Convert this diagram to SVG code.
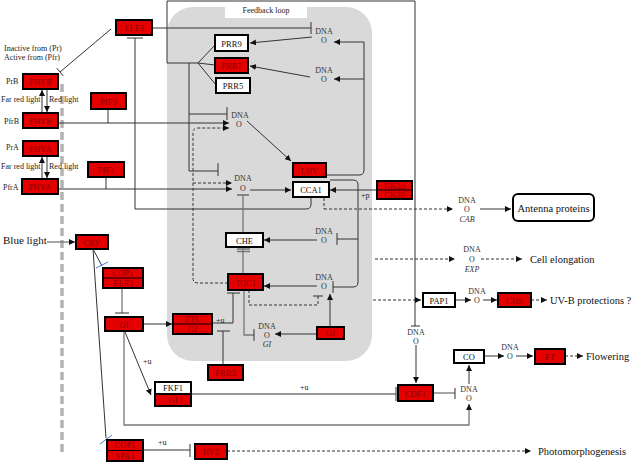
<svg xmlns="http://www.w3.org/2000/svg" width="632" height="462" viewBox="0 0 632 462">
<style>
text{font-family:"Liberation Serif","Times New Roman",serif;}
.bx{stroke:#000;stroke-width:2;}
.r{fill:#e50000;}
.w{fill:#fff;}
.tr{font-size:8.5px;fill:#8a0000;text-anchor:middle;}
.tw{font-size:8.5px;fill:#111;text-anchor:middle;}
.lb{font-size:8px;fill:#222;}
.dna{font-size:8px;fill:#333;text-anchor:middle;}
.it{font-style:italic;}
.big{font-size:10.5px;fill:#111;}
.ln{fill:none;stroke:#333;stroke-width:1;}
.gr{fill:none;stroke:#777;stroke-width:1.3;}
.ds{fill:none;stroke:#333;stroke-width:1;stroke-dasharray:3,2;}
.bl{fill:none;stroke:#4a7fd0;stroke-width:1;}
.a{marker-end:url(#ah);}
</style>
<defs>
<marker id="ah" viewBox="0 0 10 10" refX="10" refY="5" markerWidth="6" markerHeight="6" markerUnits="userSpaceOnUse" orient="auto"><path d="M0,0 L10,5 L0,10 z" fill="#111"/></marker>
</defs>
<rect width="632" height="462" fill="#fff"/>
<g id="feedback-loop">
<rect x="167" y="7" width="205" height="354" rx="26" fill="#d9d9d9"/>
<rect x="225" y="0" width="82" height="18" fill="#fff"/>
<text x="266" y="13" class="lb" text-anchor="middle">Feedback loop</text>
</g>
<line x1="62" y1="84" x2="62" y2="452" stroke="#b3b3b3" stroke-width="3.5" stroke-dasharray="8,4"/>
<g id="connectors">
<path class="ln" d="M111,29 L60,72"/><path class="ln" d="M56.8,68.2 L63.2,75.8"/>
<path class="ln" d="M152,28 H311"/><path class="ln" d="M311,22 V34"/>
<path class="ln" d="M127,38 H143"/><path class="ln" d="M135,38 V209 H306 Q311,209 311,204 V198"/>
<path class="ln a" d="M42,112 V90"/><path class="ln a" d="M47,90 V112"/>
<path class="ln a" d="M42,178 V157"/><path class="ln a" d="M47,157 V178"/>
<path class="ln" d="M108,109 V123"/>
<path class="ln a" d="M58,123 H229"/>
<path class="ln" d="M106,177 V189"/>
<path class="ln a" d="M58,189 H232"/>
<path class="gr a" d="M47,242 H75"/>
<path class="ln" d="M93,249 L102,266"/><path class="bl" d="M96,268 L108,262"/>
<path class="ln" d="M93,249 L106,438"/><path class="bl" d="M100,444 L112,435"/>
<path class="gr" d="M122,288 V313"/><path class="ln" d="M115,313 H129"/>
<path class="ln a" d="M143,324 H172"/>
<path class="ln a" d="M125,332 L151,395"/>
<path class="gr a" d="M124,331 V425 H469 V404"/>
<path class="ln" d="M212,323 H233 V293"/><path class="ln" d="M227,293 H240"/>
<path class="ln" d="M223,365 V331"/><path class="ln" d="M217,331 H230"/>
<path class="gr" d="M244,290 V335 H254"/><path class="ln" d="M254,329 V341"/>
<path class="ds" d="M249,290 V305 H318 V296"/><path class="ln" d="M313,296 H323"/>
<path class="ln a" d="M317,334 H275"/>
<path class="ln a" d="M330,327 V294"/>
<path class="ln a" d="M317,286 H264"/>
<path class="ln a" d="M317,240 H264"/>
<path class="ln" d="M330,180 H353 Q358,180 358,185 V282 Q358,287 353,287 H333"/><path class="ln" d="M333,281 V293"/>
<path class="ln" d="M358,239 H337"/><path class="ln" d="M337,233 V245"/>
<path class="ln a" d="M326,175 H359 Q364,175 364,170 V42 H334"/>
<path class="ln a" d="M364,79 H334"/>
<path class="ln a" d="M312,37 L250,43"/>
<path class="ln a" d="M310,77 L250,66"/>
<path class="ln" d="M167,63 V1 H415 V326"/><path class="ln" d="M411,326 H420"/>
<path class="ln" d="M167,63 H198 L215,45 M198,63 L215,65 M198,63 L216,85"/>
<path class="ln" d="M189,63 V171 H218"/><path class="ln" d="M218,163 V176"/>
<path class="ln" d="M189,114 H227"/><path class="ln" d="M227,107 V120"/>
<path class="ds a" d="M228,283 H198 Q193,283 193,278 V133 Q193,128 198,128 H229"/>
<path class="ds a" d="M193,183 H232"/>
<path class="ln a" d="M247,121 L291,161"/>
<path class="ln" d="M237,195 H249"/><path class="gr" d="M243,195 V233"/>
<path class="gr" d="M243,247 V274"/><path class="gr" d="M237,249 H250 M237,251.5 H250"/>
<path class="ln a" d="M250,190 H291"/>
<path class="ln a" d="M377,190 H330"/>
<path class="ds" d="M324,198 V209"/><path class="ds a" d="M324,209 H453"/>
<path class="ln a" d="M480,209 H511"/>
<path class="ds a" d="M375,259 H455"/><path class="ds a" d="M481,259 H522"/>
<path class="ds a" d="M373,300 H421"/><path class="ln a" d="M455,300 H471"/><path class="ln a" d="M483,300 H497"/><path class="ds a" d="M531,300 H547"/>
<path class="ln a" d="M416,345 V383"/>
<path class="gr" d="M433,393 H455"/><path class="ln" d="M455,388 V399"/>
<path class="gr" d="M191,394 H396"/><path class="ln" d="M396,387 V401"/>
<path class="ln a" d="M469,384 V365"/>
<path class="ln a" d="M484,356 H504"/><path class="ln a" d="M516,356 H533"/><path class="ds a" d="M565,356 H583"/>
<path class="gr" d="M143,450 H190"/><path class="ln" d="M190,444 V457"/>
<path class="ds a" d="M227,451 H531"/>
</g>
<g id="labels">
<text x="4" y="51" class="lb">Inactive from (Pr)</text>
<text x="4" y="60" class="lb">Active  from (Pfr)</text>
<text x="6" y="84" class="lb">PrB</text>
<text x="4" y="124" class="lb">PfrB</text>
<text x="1" y="102" class="lb">Far red light</text>
<text x="49" y="102" class="lb">Red light</text>
<text x="6" y="150" class="lb">PrA</text>
<text x="3" y="190" class="lb">PfrA</text>
<text x="1" y="169" class="lb">Far red light</text>
<text x="49" y="169" class="lb">Red light</text>
<text x="3" y="244" font-size="11" fill="#111">Blue light</text>
<text x="143" y="364" class="lb" font-size="7">+u</text>
<text x="216" y="323" class="lb" font-size="7">+u</text>
<text x="300" y="390" class="lb" font-size="7">+u</text>
<text x="158" y="445" class="lb" font-size="7">+u</text>
<text x="361" y="198" class="lb" font-size="7">+p</text>
<text x="530" y="263" class="big">Cell elongation</text>
<text x="550" y="304" class="big">UV-B protections ?</text>
<text x="586" y="360" class="big">Flowering</text>
<text x="538" y="455" class="big">Photomorphogenesis</text>
</g>
<g id="dna-prr9"><text x="324" y="34" class="dna">DNA</text><text x="324" y="43" class="dna">O</text></g>
<g id="dna-prr7"><text x="324" y="73" class="dna">DNA</text><text x="324" y="82" class="dna">O</text></g>
<g id="dna-lhy"><text x="240" y="118" class="dna">DNA</text><text x="239" y="127" class="dna">O</text></g>
<g id="dna-cca1"><text x="243" y="181" class="dna">DNA</text><text x="243" y="191" class="dna">O</text></g>
<g id="dna-che"><text x="324" y="234" class="dna">DNA</text><text x="324" y="243" class="dna">O</text></g>
<g id="dna-toc1"><text x="324" y="280" class="dna">DNA</text><text x="324" y="289" class="dna">O</text></g>
<g id="dna-gi"><text x="267" y="329" class="dna">DNA</text><text x="267" y="338" class="dna">O</text><text x="267" y="347" class="dna it">GI</text></g>
<g id="dna-cab"><text x="467" y="203" class="dna">DNA</text><text x="467" y="212" class="dna">O</text><text x="467" y="222" class="dna it">CAB</text></g>
<g id="dna-exp"><text x="472" y="252" class="dna">DNA</text><text x="472" y="262" class="dna">O</text><text x="472" y="272" class="dna it">EXP</text></g>
<g id="dna-chs"><text x="477" y="294" class="dna">DNA</text><text x="477" y="303" class="dna">O</text></g>
<g id="dna-cdf1"><text x="416" y="335" class="dna">DNA</text><text x="416" y="344" class="dna">O</text></g>
<g id="dna-ft"><text x="510" y="350" class="dna">DNA</text><text x="510" y="359" class="dna">O</text></g>
<g id="dna-co"><text x="469" y="392" class="dna">DNA</text><text x="469" y="401" class="dna">O</text></g>
<g id="elf3"><rect x="116" y="20" width="36" height="15" class="bx r"/><text x="134" y="31" class="tr">ELF3</text></g>
<g id="phyb-pr"><rect x="23" y="74" width="35" height="15" class="bx r"/><text x="40.5" y="85" class="tr">PHYB</text></g>
<g id="phyb-pfr"><rect x="23" y="113" width="35" height="15" class="bx r"/><text x="40.5" y="124" class="tr">PHYB</text></g>
<g id="phya-pr"><rect x="23" y="141" width="35" height="15" class="bx r"/><text x="40.5" y="152" class="tr">PHYA</text></g>
<g id="phya-pfr"><rect x="22" y="179" width="36" height="15" class="bx r"/><text x="40" y="190" class="tr">PHYA</text></g>
<g id="pif3-b"><rect x="91" y="93" width="35" height="16" class="bx r"/><text x="108.5" y="104.5" class="tr">PIF3</text></g>
<g id="pif3-a"><rect x="88" y="162" width="36" height="15" class="bx r"/><text x="106" y="173" class="tr">PIF3</text></g>
<g id="cry"><rect x="76" y="235" width="32" height="14" class="bx r"/><text x="92" y="245.5" class="tr">CRY</text></g>
<g id="cop1-elf3"><rect x="103" y="268" width="40" height="20" class="bx r"/><line x1="103" y1="278" x2="143" y2="278" stroke="#000" stroke-width="1"/><text x="123" y="276" class="tr" font-size="8">COP1</text><text x="123" y="286" class="tr" font-size="8">ELF3</text></g>
<g id="gi"><rect x="105" y="317" width="38" height="14" class="bx r"/><text x="124" y="327.5" class="tr">GI</text></g>
<g id="ztl-gi"><rect x="173" y="314" width="39" height="20" class="bx r"/><line x1="173" y1="324" x2="212" y2="324" stroke="#000" stroke-width="1"/><text x="192.5" y="322" class="tr" font-size="8">ZTL</text><text x="192.5" y="332" class="tr it" font-size="8">GI</text></g>
<g id="fkf1-gi"><rect x="155" y="382" width="36" height="12" class="w" stroke="#000" stroke-width="2"/><rect x="155" y="394" width="36" height="12" class="r" stroke="#000" stroke-width="2"/><text x="173" y="391" class="tw" font-size="8">FKF1</text><text x="173" y="403" class="tr" font-size="8">GI</text></g>
<g id="cop1-spa1"><rect x="107" y="440" width="36" height="21" class="bx r"/><line x1="107" y1="450.5" x2="143" y2="450.5" stroke="#000" stroke-width="1"/><text x="125" y="448" class="tr" font-size="8">COP1</text><text x="125" y="459" class="tr" font-size="8">SPA1</text></g>
<g id="hy5"><rect x="195" y="444" width="32" height="15" class="bx r"/><text x="211" y="455" class="tr">HY5</text></g>
<g id="prr3"><rect x="208" y="365" width="35" height="15" class="bx r"/><text x="225.5" y="376" class="tr">PRR3</text></g>
<g id="gi-2"><rect x="317" y="327" width="27" height="12" class="bx r"/><text x="330.5" y="336" class="tr">GI</text></g>
<g id="prr9"><rect x="215" y="35" width="33" height="16" class="bx w"/><text x="231.5" y="46.5" class="tw">PRR9</text></g>
<g id="prr7"><rect x="215" y="58" width="33" height="15" class="bx r"/><text x="231.5" y="69" class="tr">PRR7</text></g>
<g id="prr5"><rect x="216" y="78" width="34" height="15" class="bx w"/><text x="233" y="89" class="tw">PRR5</text></g>
<g id="lhy"><rect x="293" y="163" width="33" height="14" class="bx r"/><text x="309.5" y="173.5" class="tr">LHY</text></g>
<g id="cca1"><rect x="293" y="182" width="36" height="15" class="bx w"/><text x="311" y="193" class="tw">CCA1</text></g>
<g id="ck2"><rect x="377" y="181" width="35" height="18" class="bx r"/><line x1="377" y1="190" x2="412" y2="190" stroke="#000" stroke-width="1"/><text x="394.5" y="188.5" class="tr" font-size="8">CK2α</text><text x="394.5" y="197.5" class="tr" font-size="8">CK2β</text></g>
<g id="che"><rect x="226" y="233" width="37" height="14" class="bx w"/><text x="244.5" y="243.5" class="tw">CHE</text></g>
<g id="toc1"><rect x="228" y="274" width="35" height="16" class="bx r"/><text x="245.5" y="285.5" class="tr">TOC1</text></g>
<g id="pap1"><rect x="423" y="293" width="32" height="14" class="bx w"/><text x="439" y="303.5" class="tw">PAP1</text></g>
<g id="chs"><rect x="498" y="293" width="33" height="14" class="bx r"/><text x="514.5" y="303.5" class="tr">CHS</text></g>
<g id="cdf1"><rect x="398" y="385" width="35" height="16" class="bx r"/><text x="415.5" y="396.5" class="tr">CDF1</text></g>
<g id="co"><rect x="454" y="350" width="30" height="13" class="bx w"/><text x="469" y="360" class="tw">CO</text></g>
<g id="ft"><rect x="535" y="349" width="30" height="15" class="bx r"/><text x="550" y="360" class="tr">FT</text></g>
<g id="antenna-proteins"><rect x="513" y="194" width="81" height="27" rx="5" fill="#fff" stroke="#000" stroke-width="2"/><text x="553.5" y="212" class="big" text-anchor="middle">Antenna proteins</text></g>
</svg>
